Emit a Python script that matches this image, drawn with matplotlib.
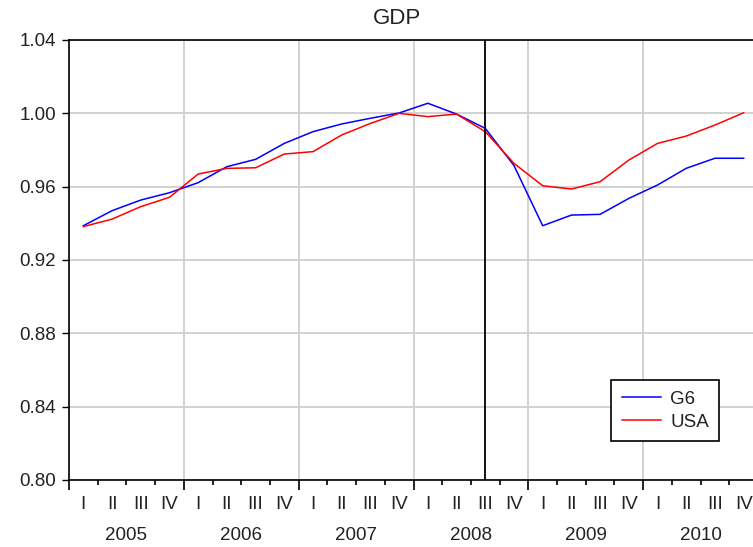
import numpy as np
import matplotlib.pyplot as plt

plt.rcParams['font.family'] = ['Liberation Sans', 'DejaVu Sans']

years = ["2005", "2006", "2007", "2008", "2009", "2010"]
quarters = ["I", "II", "III", "IV"]

g6 = [0.9387, 0.9469, 0.9527, 0.9567, 0.9622, 0.9709, 0.9749, 0.9836,
      0.9900, 0.9942, 0.9973, 1.0002, 1.0055, 0.9996, 0.9918, 0.9715,
      0.9387, 0.9445, 0.9449, 0.9536, 0.9609, 0.9700, 0.9755, 0.9755]
usa = [0.9382, 0.9423, 0.9491, 0.9542, 0.9669, 0.9700, 0.9703, 0.9778,
       0.9791, 0.9882, 0.9945, 1.0000, 0.9982, 0.9996, 0.9900, 0.9727,
       0.9605, 0.9587, 0.9627, 0.9745, 0.9836, 0.9876, 0.9936, 1.0003]
break_index = 14  # 2008 Q3

x = np.arange(len(g6))
quarter_labels = quarters * len(years)
txt = "#222222"

fig = plt.figure(figsize=(7.53, 5.47), dpi=100)
ax = fig.add_axes([69 / 753, 67 / 547, 689 / 753, 440 / 547])

ax.plot(x, g6, color="#0000ff", lw=1.1, label="G6")
ax.plot(x, usa, color="#ff0000", lw=1.1, label="USA")
ax.axvline(x[break_index], color="black", lw=1.3)

ax.set_xlim(-0.5, len(x) - 0.5)
ax.set_ylim(0.80, 1.04)
ax.set_yticks(np.arange(0.80, 1.041, 0.04))
ax.set_yticklabels([f"{v:.2f}" for v in np.arange(0.80, 1.041, 0.04)])

ax.set_xticks(np.arange(-0.5, len(x), 4))
ax.set_xticks(np.arange(-0.5, len(x), 1), minor=True)
ax.set_xticklabels([])
ax.tick_params(axis="x", which="major", length=7.2, width=1.2, direction="out")
ax.tick_params(axis="x", which="minor", length=3.6, width=1.2, direction="out")
ax.tick_params(axis="y", length=5, width=1.0, pad=4.5, labelsize=13.5, labelcolor=txt)

ax.grid(True, which="major", color="#cfcfcf", lw=1.3)
ax.set_axisbelow(True)
for side in ["left", "top", "bottom"]:
    ax.spines[side].set_linewidth(1.2)
ax.spines["right"].set_visible(False)

sec_q = ax.secondary_xaxis("bottom")
sec_q.set_xticks(x)
sec_q.set_xticklabels(quarter_labels)
sec_q.tick_params(length=0, pad=11.5, labelsize=13.5, labelcolor=txt)
sec_q.spines["bottom"].set_visible(False)

sec_y = ax.secondary_xaxis("bottom")
sec_y.set_xticks(np.arange(1.5, len(x), 4))
sec_y.set_xticklabels(years)
sec_y.tick_params(length=0, pad=33.5, labelsize=13.5, labelcolor=txt)
sec_y.spines["bottom"].set_visible(False)

fig.text(397 / 753, 1 - 18 / 547, "GDP", ha="center", va="center", fontsize=16, color=txt)

leg = ax.legend(loc="lower left", bbox_to_anchor=(0.787, 0.089), fontsize=13.5,
                frameon=True, fancybox=False, edgecolor="black", framealpha=1,
                handlelength=2.1, handletextpad=0.5, borderpad=0.55, labelspacing=0.3,
                borderaxespad=0)
leg.get_frame().set_linewidth(1.2)
for t in leg.get_texts():
    t.set_color(txt)

fig.savefig("out.png", dpi=100)
